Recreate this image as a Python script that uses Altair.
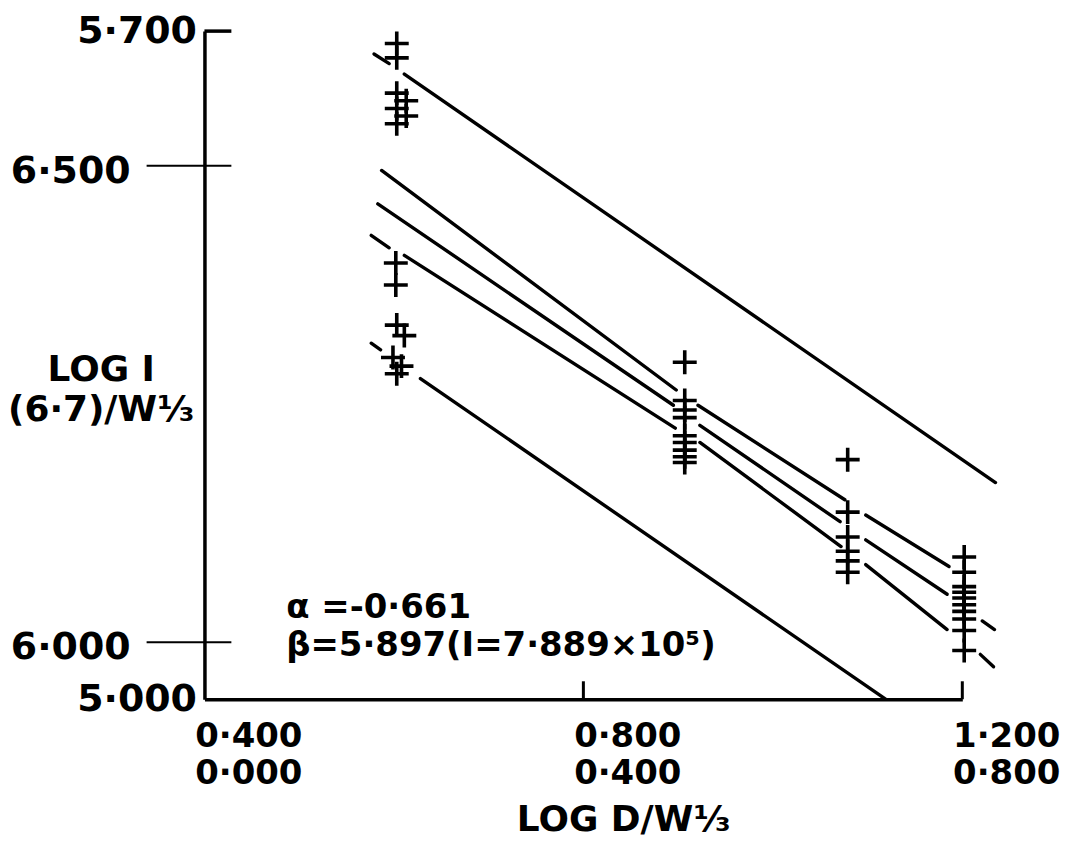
import altair as alt
import pandas as pd

FONT = "DejaVu Sans"

# ---- data (x: LOG D/W^1/3 upper scale, y: LOG I outer scale) ----
cross_x = [0.603, 0.603, 0.603, 0.613, 0.603, 0.613, 0.603,
           0.602, 0.602, 0.603, 0.611, 0.599, 0.608, 0.603,
           0.907, 0.907, 0.907, 0.907, 0.907, 0.907, 0.907, 0.907, 0.907,
           1.079, 1.079, 1.079, 1.079, 1.079, 1.079,
           1.202, 1.202, 1.202, 1.202, 1.202, 1.202, 1.202, 1.202, 1.202, 1.202]
cross_y = [5.687, 5.672, 5.635, 5.627, 5.619, 5.611, 5.603,
           5.457, 5.434, 5.392, 5.381, 5.358, 5.349, 5.341,
           5.353, 5.313, 5.303, 5.295, 5.276, 5.269, 5.261, 5.254, 5.248,
           5.251, 5.196, 5.170, 5.155, 5.145, 5.133,
           5.149, 5.133, 5.118, 5.112, 5.106, 5.099, 5.092, 5.084, 5.072, 5.051]

# fitted lines, drawn as broken segments (gaps at the data columns)
seg_line = ["L1", "L1",
            "L2", "L2", "L2",
            "L3", "L3", "L3", "L3",
            "L4", "L4", "L4", "L4", "L4",
            "L5", "L5"]
seg_x1 = [0.579, 0.611,
          0.587, 0.921, 1.098,
          0.583, 0.923, 1.098, 1.221,
          0.576, 0.611, 0.923, 1.098, 1.219,
          0.576, 0.628]
seg_y1 = [5.676, 5.655,
          5.554, 5.308, 5.193,
          5.519, 5.287, 5.167, 5.082,
          5.486, 5.465, 5.269, 5.141, 5.047,
          5.373, 5.336]
seg_x2 = [0.595, 1.235,
          0.898, 1.076, 1.186,
          0.895, 1.071, 1.184, 1.234,
          0.595, 0.897, 1.072, 1.184, 1.233,
          0.586, 1.119]
seg_y2 = [5.666, 5.227,
          5.324, 5.209, 5.139,
          5.308, 5.186, 5.110, 5.073,
          5.473, 5.284, 5.160, 5.073, 5.034,
          5.366, 5.000]

# axes
x_tick_vals = [0.4, 0.8, 1.2]
x_top_labels = ["0·400", "0·800", "1·200"]
x_bottom_labels = ["0·000", "0·400", "0·800"]
y_outer_vals = [5.0, 5.7]
y_outer_labels = ["5·000", "5·700"]
y_inner_vals = [5.0596, 5.559]
y_inner_labels = ["6·000", "6·500"]

alpha_text = "α =-0·661"
beta_text = "β=5·897(I=7·889×10⁵)"

# ---- tables ----
crosses = pd.DataFrame({"x": cross_x, "y": cross_y})
segs = pd.DataFrame({"line": seg_line, "x1": seg_x1, "y1": seg_y1, "x2": seg_x2, "y2": seg_y2})
xt = pd.DataFrame({"x": x_tick_vals[1:]})
yin = pd.DataFrame({"y": y_inner_vals, "label": y_inner_labels})
ytop = pd.DataFrame({"y": [y_outer_vals[-1]]})

x_expr = ""
for i, v in enumerate(x_tick_vals):
    x_expr += f"abs(datum.value - {v}) < 0.01 ? ['{x_top_labels[i]}', '{x_bottom_labels[i]}'] : "
x_expr += "''"
y_expr = ""
for i, v in enumerate(y_outer_vals):
    y_expr += f"abs(datum.value - {v}) < 0.01 ? '{y_outer_labels[i]}' : "
y_expr += "''"

xscale = alt.Scale(domain=[0.4, 1.2], nice=False, zero=False)
yscale = alt.Scale(domain=[5.0, 5.7], nice=False, zero=False)

x_axis = alt.Axis(
    values=x_tick_vals, labelExpr=x_expr, ticks=False, grid=False,
    domainColor="black", domainWidth=3.5,
    labelFont=FONT, labelFontWeight="bold", labelFontSize=34, labelColor="black",
    labelBaseline="top", labelPadding=20, labelLineHeight=38, labelOffset=44,
    labelAlign="center", labelFlush=False, labelOverlap=False,
    title="LOG  D/W¹⁄₃", titleFont=FONT, titleFontWeight="bold", titleFontSize=36,
    titleColor="black", titleX=420, titleY=121, titleAlign="center", titleBaseline="middle",
)
y_axis = alt.Axis(
    values=y_outer_vals, labelExpr=y_expr, ticks=False, grid=False,
    domainColor="black", domainWidth=3.5,
    labelFont=FONT, labelFontWeight="bold", labelFontSize=38, labelColor="black",
    labelBaseline="middle", labelPadding=8, labelFlush=False, labelOverlap=False,
    title=["LOG I", "(6·7)/W¹⁄₃"], titleFont=FONT, titleFontWeight="bold", titleFontSize=36,
    titleColor="black", titleAngle=0, titleX=-104, titleY=322, titleAlign="center",
    titleBaseline="top", titleLineHeight=40,
)

pts = alt.Chart(crosses).mark_point(
    shape="M-1,0H1M0,-1V1", size=576, strokeWidth=3.6, color="black", filled=False, opacity=1
).encode(
    x=alt.X("x:Q", scale=xscale, axis=x_axis),
    y=alt.Y("y:Q", scale=yscale, axis=y_axis),
)

lines = alt.Chart(segs).mark_rule(strokeWidth=3.4, color="black", strokeCap="round").encode(
    x="x1:Q", y="y1:Q", x2="x2:Q", y2="y2:Q"
)

xticks = alt.Chart(xt).mark_rule(strokeWidth=3, color="black").encode(
    x="x:Q", y=alt.value(652), y2=alt.value(670)
)

yticks = alt.Chart(yin).mark_rule(strokeWidth=2, color="black").encode(
    y="y:Q", x=alt.value(-58), x2=alt.value(27)
)
ylabels = alt.Chart(yin).mark_text(
    font=FONT, fontWeight="bold", fontSize=38, color="black", align="right",
    baseline="middle", dy=6
).encode(y="y:Q", x=alt.value(-74), text="label:N")

toptick = alt.Chart(ytop).mark_rule(strokeWidth=3.5, color="black").encode(
    y="y:Q", x=alt.value(0), x2=alt.value(27)
)

annot = alt.Chart(pd.DataFrame({"a": [0]})).mark_text(
    text=[alpha_text, beta_text], font=FONT, fontWeight="bold", fontSize=34,
    color="black", align="left", baseline="top", lineHeight=38
).encode(x=alt.value(82), y=alt.value(562))

chart = alt.layer(pts, lines, xticks, yticks, ylabels, toptick, annot).properties(
    width=760, height=670,
    autosize=alt.AutoSizeParams(type="none"),
    padding={"left": 197, "top": 22, "right": 110, "bottom": 142},
    background="white",
).configure_view(stroke=None)

chart.save("out.html", embed_options={"renderer": "svg", "actions": False})
